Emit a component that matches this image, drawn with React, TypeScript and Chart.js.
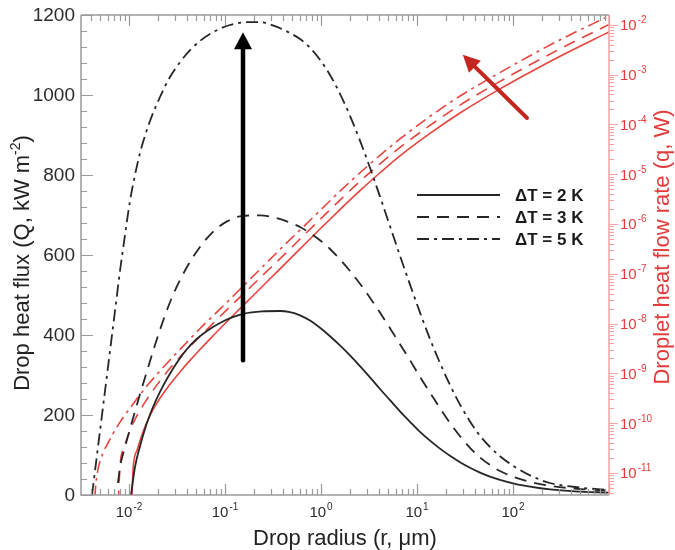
import React, { useEffect, useRef } from "react";
import { Chart, registerables } from "chart.js";

Chart.register(...registerables);

// ---- Drop heat flux Q (kW m^-2) vs drop radius r (µm), left axis ----
const radius2K = [0.01049, 0.01155, 0.01302, 0.01528, 0.01778, 0.02103, 0.02548, 0.03139, 0.03924, 0.05071, 0.06652, 0.08868, 0.1183, 0.1551, 0.2428, 0.3741, 0.4753, 0.6043, 0.7681, 0.9763, 1.241, 1.577, 2.005, 2.548, 3.238, 4.117, 5.233, 6.652, 8.455, 10.75, 13.66, 17.36, 22.07, 28.05, 35.66, 45.32, 57.62, 73.21, 104.9, 150.4, 242.9, 442.4, 1000];
const flux2K = [0, 70, 122, 178, 220, 258, 295, 330, 362, 390, 412, 430, 444, 453, 459, 460, 457, 449, 436, 418, 397, 374, 349, 322, 294, 265, 237, 209, 183, 158, 136, 116, 98, 82, 68, 56, 46, 38, 28, 21, 14, 9, 6];

const radius3K = [0.00768, 0.00806, 0.009085, 0.01024, 0.01241, 0.0154, 0.01866, 0.02261, 0.02873, 0.04019, 0.05489, 0.07499, 0.1049, 0.154, 0.2315, 0.3318, 0.4753, 0.6043, 0.7681, 0.9763, 1.241, 1.577, 2.005, 2.548, 3.238, 4.117, 5.233, 6.652, 8.455, 10.75, 13.66, 17.36, 22.07, 28.05, 35.66, 45.32, 57.62, 73.21, 104.9, 150.4, 242.9, 442.4, 1000];
const flux3K = [30, 70, 120, 165, 235, 310, 375, 435, 500, 570, 620, 658, 684, 698, 699, 693, 681, 670, 655, 637, 615, 589, 560, 528, 493, 456, 417, 377, 337, 295, 256, 217, 180, 147, 118, 94, 75, 60, 44, 33, 23, 16, 11];

const radius5K = [0.004118, 0.004424, 0.004988, 0.005623, 0.006341, 0.007147, 0.008057, 0.009085, 0.01024, 0.01155, 0.01302, 0.01655, 0.02103, 0.02674, 0.03398, 0.04318, 0.05489, 0.07499, 0.1128, 0.1695, 0.2315, 0.3318, 0.4753, 0.6043, 0.7681, 0.9763, 1.241, 1.577, 2.005, 2.548, 3.238, 4.117, 5.233, 6.652, 8.455, 10.75, 13.66, 17.36, 22.07, 28.05, 35.66, 45.32, 57.62, 73.21, 104.9, 150.4, 242.9, 442.4, 1000];
const flux5K = [0, 60, 160, 260, 360, 460, 560, 650, 735, 800, 855, 935, 995, 1045, 1082, 1112, 1135, 1157, 1175, 1182, 1182, 1172, 1155, 1140, 1118, 1088, 1050, 1003, 948, 886, 818, 746, 672, 598, 526, 456, 390, 330, 275, 226, 184, 148, 120, 97, 70, 49, 30, 20, 12];

// ---- Droplet heat flow rate q (W) vs drop radius r (µm), right axis ----
const rateRadius2K = [0.01049, 0.01108, 0.01211, 0.01356, 0.0154, 0.01791, 0.02103, 0.02674, 0.03398, 0.04318, 0.05489, 0.07553, 0.1024, 0.1433, 0.2054, 0.2943, 0.4217, 0.6043, 0.9763, 1.577, 2.548, 4.117, 6.652, 13.66, 28.05, 68.13, 150.4, 331.7, 1000];
const rate2K = [1e-12, 1.35e-11, 2.82e-11, 5.62e-11, 1.05e-10, 1.91e-10, 3.16e-10, 6.03e-10, 1.07e-9, 1.82e-9, 3.02e-9, 5.75e-9, 1.05e-8, 2.0e-8, 3.98e-8, 7.94e-8, 1.58e-7, 3.16e-7, 7.94e-7, 1.95e-6, 4.68e-6, 1.07e-5, 2.34e-5, 6.61e-5, 1.7e-4, 4.79e-4, 1.12e-3, 2.51e-3, 7.24e-3];

const rateRadius3K = [0.00759, 0.00806, 0.00887, 0.01024, 0.01211, 0.0154, 0.02103, 0.02674, 0.03398, 0.04318, 0.05489, 0.07553, 0.1024, 0.1433, 0.2054, 0.2943, 0.4217, 0.6043, 0.9763, 1.577, 2.548, 4.117, 6.652, 13.66, 28.05, 68.13, 150.4, 331.7, 1000];
const rate3K = [1e-12, 1.35e-11, 3.16e-11, 7.08e-11, 1.41e-10, 3.02e-10, 7.08e-10, 1.26e-9, 2.14e-9, 3.47e-9, 5.5e-9, 1.02e-8, 1.82e-8, 3.39e-8, 6.61e-8, 1.29e-7, 2.51e-7, 5.01e-7, 1.23e-6, 3.02e-6, 7.24e-6, 1.62e-5, 3.47e-5, 9.55e-5, 2.45e-4, 6.76e-4, 1.58e-3, 3.55e-3, 1.02e-2];

const rateRadius5K = [0.00422, 0.00453, 0.00479, 0.00536, 0.00604, 0.00686, 0.00806, 0.01024, 0.01302, 0.01655, 0.02103, 0.02674, 0.03398, 0.04318, 0.05489, 0.07553, 0.1024, 0.1433, 0.2054, 0.2943, 0.4217, 0.6043, 0.9763, 1.577, 2.548, 4.117, 6.652, 13.66, 28.05, 68.13, 150.4, 331.7, 1000];
const rate5K = [1e-12, 6.31e-12, 1.26e-11, 2.51e-11, 3.98e-11, 6.31e-11, 1.05e-10, 2.0e-10, 3.72e-10, 6.61e-10, 1.12e-9, 1.86e-9, 3.02e-9, 4.9e-9, 7.94e-9, 1.45e-8, 2.57e-8, 4.9e-8, 9.77e-8, 1.95e-7, 3.89e-7, 7.59e-7, 1.86e-6, 4.57e-6, 1.07e-5, 2.4e-5, 5.13e-5, 1.45e-4, 3.72e-4, 1.02e-3, 2.4e-3, 5.37e-3, 1.51e-2];

// ---- axes / ticks ----
const fluxTicks = [0, 200, 400, 600, 800, 1000, 1200];
const radiusTickExponents = [-2, -1, 0, 1, 2];
const rateTickExponents = [-2, -3, -4, -5, -6, -7, -8, -9, -10, -11];
const legendLabels = ["\u0394T = 2 K", "\u0394T = 3 K", "\u0394T = 5 K"];

// ---- annotation arrows (data units) ----
const upArrowRadius = 0.154;
const upArrowFlux = [337, 1157];
const redArrowRadius = [140, 30];
const redArrowRate = [1.35e-4, 2.5e-3];

const FONT = '"Liberation Sans", Arial, Helvetica, sans-serif';
const BLACK = "#262626";
const RED = "#e8443e";
const RED_AXIS = "#f3a3a3";
const RED_TEXT = "#e53a3a";
const GRAY = "#9a9a9a";
const SOLID: number[] = [];
const DASH = [12, 8];
const DASHDOT = [12, 5, 3, 5];

function pts(xs: number[], ys: number[]) {
  return xs.map((x, i) => ({ x, y: ys[i] }));
}

function drawPower(ctx: CanvasRenderingContext2D, x: number, cy: number, exp: number, align: "center" | "left", color: string) {
  const base = "10";
  const sup = String(exp);
  ctx.save();
  ctx.fillStyle = color;
  ctx.textAlign = "left";
  ctx.textBaseline = "alphabetic";
  ctx.font = `15px ${FONT}`;
  const wb = ctx.measureText(base).width;
  ctx.font = `10px ${FONT}`;
  const ws = ctx.measureText(sup).width;
  const total = wb + 1 + ws;
  const x0 = align === "center" ? x - total / 2 : x;
  const by = cy + 5.4;
  ctx.font = `15px ${FONT}`;
  ctx.fillText(base, x0, by);
  ctx.font = `10px ${FONT}`;
  ctx.fillText(sup, x0 + wb + 1, by - 7);
  ctx.restore();
}

function arrow(ctx: CanvasRenderingContext2D, x1: number, y1: number, x2: number, y2: number, color: string, w: number, hl: number, hw: number) {
  const dx = x2 - x1, dy = y2 - y1;
  const L = Math.hypot(dx, dy);
  const ux = dx / L, uy = dy / L;
  const bx = x2 - ux * hl, by = y2 - uy * hl;
  ctx.save();
  ctx.strokeStyle = color;
  ctx.fillStyle = color;
  ctx.lineWidth = w;
  ctx.setLineDash([]);
  ctx.lineCap = "round";
  ctx.beginPath();
  ctx.moveTo(x1, y1);
  ctx.lineTo(bx + ux * 2, by + uy * 2);
  ctx.stroke();
  ctx.beginPath();
  ctx.moveTo(x2, y2);
  ctx.lineTo(bx - uy * hw, by + ux * hw);
  ctx.lineTo(bx + uy * hw, by - ux * hw);
  ctx.closePath();
  ctx.fill();
  ctx.restore();
}

const decor = {
  id: "decor",
  afterDatasetsDraw(chart: any) {
    const { ctx, chartArea: a, scales } = chart;
    const xs = scales.x, ys = scales.y, yr = scales.y2;
    ctx.save();
    ctx.setLineDash([]);

    // frame (black axes)
    ctx.strokeStyle = GRAY;
    ctx.lineWidth = 1.5;
    ctx.beginPath();
    ctx.moveTo(a.left, a.top);
    ctx.lineTo(a.left, a.bottom);
    ctx.lineTo(a.right, a.bottom);
    ctx.moveTo(a.left, a.top);
    ctx.lineTo(a.right, a.top);
    ctx.stroke();

    // x ticks (bottom + top, inward)
    ctx.lineWidth = 1.2;
    ctx.beginPath();
    for (let e = -3; e <= 3; e++) {
      for (let m = 1; m <= 9; m++) {
        const v = m * Math.pow(10, e);
        if (v < xs.min * 0.999 || v > xs.max * 1.001) continue;
        const px = Math.round(xs.getPixelForValue(v)) + 0.5;
        const len = m === 1 ? 11 : 6;
        ctx.moveTo(px, a.bottom);
        ctx.lineTo(px, a.bottom - len);
        ctx.moveTo(px, a.top);
        ctx.lineTo(px, a.top + len);
      }
    }
    // left ticks (inward)
    for (let v = 0; v <= 1200; v += 40) {
      const py = Math.round(ys.getPixelForValue(v)) + 0.5;
      const len = v % 200 === 0 ? 12 : 6;
      ctx.moveTo(a.left, py);
      ctx.lineTo(a.left + len, py);
    }
    ctx.stroke();

    // right red axis
    ctx.strokeStyle = RED_AXIS;
    ctx.lineWidth = 1.5;
    ctx.beginPath();
    ctx.moveTo(a.right, a.top);
    ctx.lineTo(a.right, a.bottom);
    ctx.stroke();
    ctx.lineWidth = 1;
    ctx.beginPath();
    for (let e = -13; e <= -1; e++) {
      for (let m = 1; m <= 9; m++) {
        const v = m * Math.pow(10, e);
        if (v < yr.min || v > yr.max) continue;
        const py = Math.round(yr.getPixelForValue(v)) + 0.5;
        const len = m === 1 ? 9 : 5;
        ctx.moveTo(a.right, py);
        ctx.lineTo(a.right + len, py);
      }
    }
    ctx.stroke();

    // left labels
    ctx.fillStyle = "#2b2b2b";
    ctx.font = `19px ${FONT}`;
    ctx.textAlign = "right";
    ctx.textBaseline = "middle";
    fluxTicks.forEach((v) => {
      ctx.fillText(String(v), a.left - 6, ys.getPixelForValue(v) + 1);
    });

    // bottom labels
    radiusTickExponents.forEach((e) => {
      drawPower(ctx, xs.getPixelForValue(Math.pow(10, e)), a.bottom + 17, e, "center", "#2b2b2b");
    });

    // right labels
    rateTickExponents.forEach((e) => {
      drawPower(ctx, a.right + 11, yr.getPixelForValue(Math.pow(10, e)), e, "left", RED_TEXT);
    });

    // titles
    ctx.fillStyle = "#222";
    ctx.font = `22px ${FONT}`;
    ctx.textAlign = "center";
    ctx.textBaseline = "middle";
    ctx.fillText("Drop radius (r, \u03bcm)", (a.left + a.right) / 2, 539);

    // left title with superscript
    ctx.save();
    ctx.translate(21, (a.top + a.bottom) / 2 + 8);
    ctx.rotate(-Math.PI / 2);
    const t1 = "Drop heat flux (Q, kW m";
    const t2 = "-2";
    const t3 = ")";
    ctx.font = `22px ${FONT}`;
    const w1 = ctx.measureText(t1).width;
    const w3 = ctx.measureText(t3).width;
    ctx.font = `14px ${FONT}`;
    const w2 = ctx.measureText(t2).width;
    const tot = w1 + w2 + w3;
    ctx.textAlign = "left";
    ctx.textBaseline = "alphabetic";
    ctx.font = `22px ${FONT}`;
    ctx.fillText(t1, -tot / 2, 8);
    ctx.font = `14px ${FONT}`;
    ctx.fillText(t2, -tot / 2 + w1, -1);
    ctx.font = `22px ${FONT}`;
    ctx.fillText(t3, -tot / 2 + w1 + w2, 8);
    ctx.restore();

    // right title
    ctx.save();
    ctx.translate(663, 247);
    ctx.rotate(-Math.PI / 2);
    ctx.fillStyle = RED_TEXT;
    ctx.font = `22px ${FONT}`;
    ctx.textAlign = "center";
    ctx.textBaseline = "middle";
    ctx.fillText("Droplet heat flow rate (q, W)", 0, 0);
    ctx.restore();

    // legend
    const styles = [SOLID, DASH, DASHDOT];
    const lx0 = a.left + 336;
    const lx1 = a.left + 419;
    styles.forEach((d, i) => {
      const y = a.top + 180 + i * 22;
      ctx.save();
      ctx.strokeStyle = BLACK;
      ctx.lineWidth = 2;
      ctx.setLineDash(d);
      ctx.beginPath();
      ctx.moveTo(lx0, y);
      ctx.lineTo(lx1, y);
      ctx.stroke();
      ctx.restore();
      ctx.fillStyle = "#1a1a1a";
      ctx.font = `bold 17px ${FONT}`;
      ctx.textAlign = "left";
      ctx.textBaseline = "middle";
      ctx.fillText(legendLabels[i], a.left + 434, y + 1);
    });

    // arrows
    const ax = xs.getPixelForValue(upArrowRadius);
    arrow(ctx, ax, ys.getPixelForValue(upArrowFlux[0]), ax, ys.getPixelForValue(upArrowFlux[1]), "#000", 4.5, 17, 9);
    arrow(
      ctx,
      xs.getPixelForValue(redArrowRadius[0]),
      yr.getPixelForValue(redArrowRate[0]),
      xs.getPixelForValue(redArrowRadius[1]),
      yr.getPixelForValue(redArrowRate[1]),
      "#c4261f",
      4,
      17,
      8.5
    );
    ctx.restore();
  },
};

export default function App() {
  const ref = useRef<HTMLCanvasElement>(null);
  useEffect(() => {
    const canvas = ref.current as HTMLCanvasElement;
    const mk = (label: string, xs: number[], ys: number[], color: string, dash: number[], axis: string, w: number) => ({
      label,
      data: pts(xs, ys),
      borderColor: color,
      backgroundColor: color,
      borderWidth: w,
      borderDash: dash,
      pointRadius: 0,
      fill: false,
      cubicInterpolationMode: "monotone" as const,
      yAxisID: axis,
    });
    const chart = new Chart(canvas, {
      type: "line",
      data: {
        datasets: [
          mk("Q, \u0394T = 2 K", radius2K, flux2K, BLACK, SOLID, "y", 1.8),
          mk("Q, \u0394T = 3 K", radius3K, flux3K, BLACK, DASH, "y", 1.8),
          mk("Q, \u0394T = 5 K", radius5K, flux5K, BLACK, DASHDOT, "y", 1.8),
          mk("q, \u0394T = 2 K", rateRadius2K, rate2K, RED, SOLID, "y2", 1.6),
          mk("q, \u0394T = 3 K", rateRadius3K, rate3K, RED, DASH, "y2", 1.6),
          mk("q, \u0394T = 5 K", rateRadius5K, rate5K, RED, DASHDOT, "y2", 1.6),
        ],
      },
      options: {
        responsive: false,
        animation: false,
        devicePixelRatio: 1,
        layout: { padding: { top: 15, left: 0, right: 0, bottom: 0 } },
        plugins: { legend: { display: false }, tooltip: { enabled: false } },
        scales: {
          x: {
            type: "logarithmic",
            min: Math.pow(10, -2.5),
            max: 1000,
            ticks: { display: false },
            grid: { display: false },
            border: { display: false },
            afterFit: (s: any) => {
              s.height = 55;
            },
          },
          y: {
            type: "linear",
            position: "left",
            min: 0,
            max: 1200,
            ticks: { display: false },
            grid: { display: false },
            border: { display: false },
            afterFit: (s: any) => {
              s.width = 81;
            },
          },
          y2: {
            type: "logarithmic",
            position: "right",
            min: 3.6e-12,
            max: 0.0158,
            ticks: { display: false },
            grid: { display: false },
            border: { display: false },
            afterFit: (s: any) => {
              s.width = 66;
            },
          },
        },
      } as any,
      plugins: [decor],
    });
    return () => chart.destroy();
  }, []);
  return (
    <div style={{ position: "absolute", left: 0, top: 0, width: 675, height: 550, background: "#fff" }}>
      <canvas ref={ref} width={675} height={550} style={{ display: "block" }} />
    </div>
  );
}
